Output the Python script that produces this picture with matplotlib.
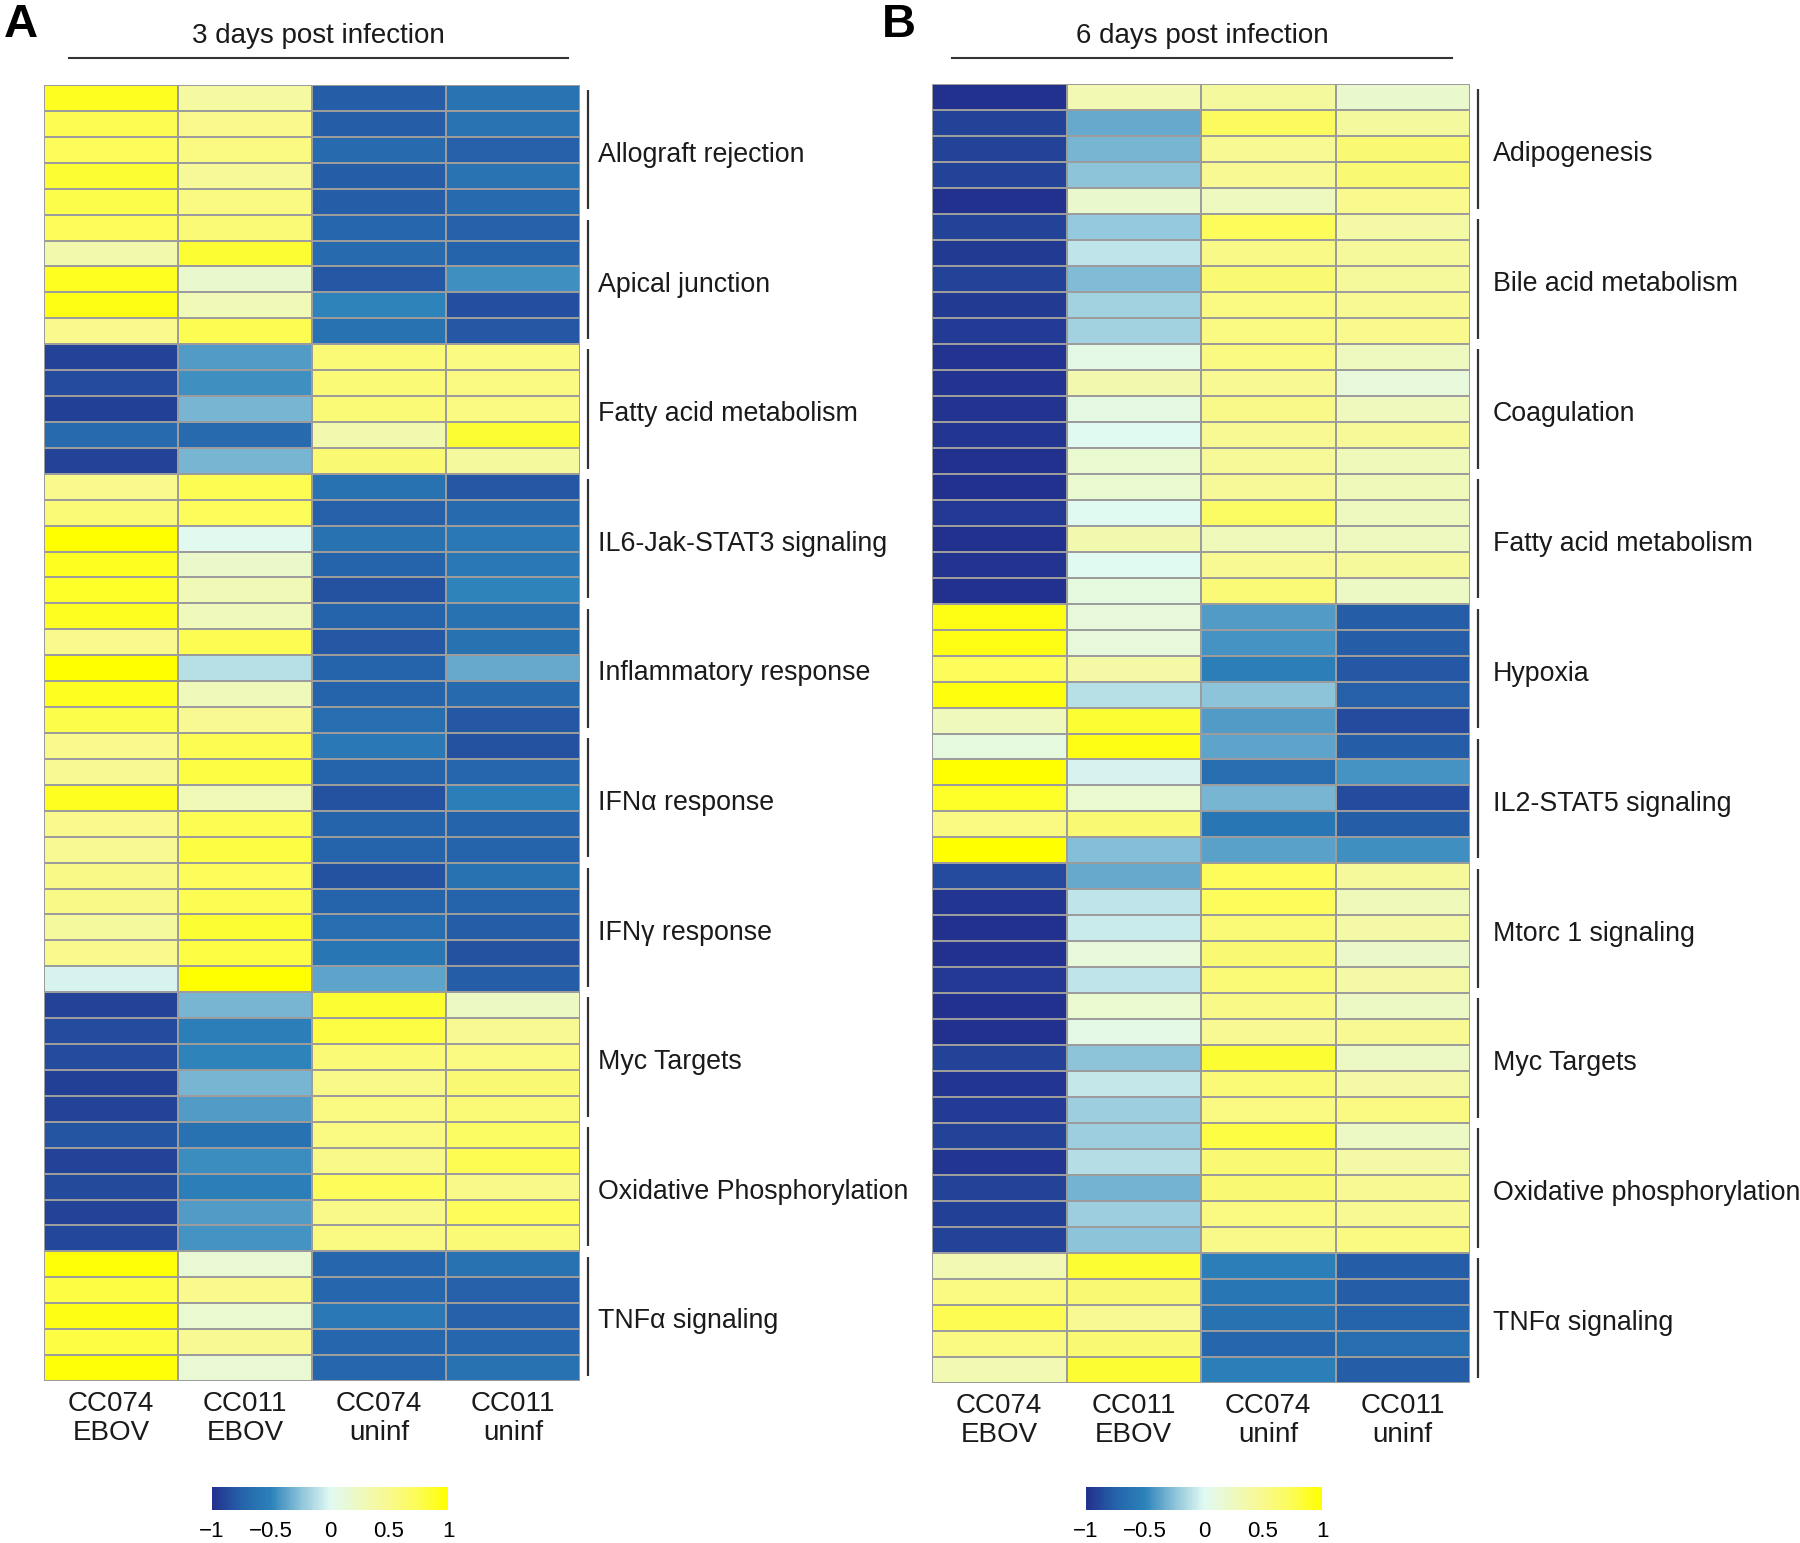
import matplotlib
matplotlib.use('Agg')
import matplotlib.pyplot as plt
import numpy as np
from matplotlib.colors import LinearSegmentedColormap
from matplotlib.lines import Line2D

# column labels (two lines each)
samples_top = ['CC074', 'CC011', 'CC074', 'CC011']
samples_bottom = ['EBOV', 'EBOV', 'uninf', 'uninf']

groups_d3 = ['Allograft rejection', 'Apical junction', 'Fatty acid metabolism',
             'IL6-Jak-STAT3 signaling', 'Inflammatory response', 'IFN\u03b1 response',
             'IFN\u03b3 response', 'Myc Targets', 'Oxidative Phosphorylation', 'TNF\u03b1 signaling']
groups_d6 = ['Adipogenesis', 'Bile acid metabolism', 'Coagulation', 'Fatty acid metabolism',
             'Hypoxia', 'IL2-STAT5 signaling', 'Mtorc 1 signaling', 'Myc Targets',
             'Oxidative phosphorylation', 'TNF\u03b1 signaling']

# 3 days post infection, one list per column (50 genes, 5 per group)
d3_cc074_ebov = [0.9, 0.75, 0.72, 0.85, 0.78, 0.72, 0.35, 0.9, 0.93, 0.5,
                 -0.9, -0.86, -0.92, -0.68, -0.9, 0.5, 0.6, 1.0, 0.9, 0.88,
                 0.9, 0.5, 1.0, 0.9, 0.78, 0.5, 0.47, 0.9, 0.5, 0.47,
                 0.53, 0.53, 0.42, 0.5, -0.03, -0.9, -0.86, -0.86, -0.92, -0.9,
                 -0.82, -0.9, -0.87, -0.9, -0.88, 0.97, 0.8, 0.93, 0.8, 0.97]
d3_cc011_ebov = [0.4, 0.5, 0.55, 0.45, 0.55, 0.6, 0.85, 0.18, 0.3, 0.75,
                 -0.4, -0.45, -0.3, -0.68, -0.3, 0.75, 0.72, 0.02, 0.2, 0.3,
                 0.27, 0.75, -0.12, 0.28, 0.48, 0.75, 0.8, 0.3, 0.75, 0.8,
                 0.72, 0.75, 0.85, 0.8, 1.0, -0.3, -0.53, -0.5, -0.3, -0.4,
                 -0.63, -0.46, -0.53, -0.4, -0.43, 0.15, 0.5, 0.17, 0.47, 0.15]
d3_cc074_uninf = [-0.78, -0.78, -0.68, -0.78, -0.77, -0.72, -0.68, -0.8, -0.5, -0.63,
                  0.6, 0.6, 0.6, 0.33, 0.62, -0.63, -0.76, -0.63, -0.75, -0.83,
                  -0.75, -0.8, -0.75, -0.75, -0.66, -0.57, -0.75, -0.83, -0.75, -0.75,
                  -0.83, -0.75, -0.66, -0.6, -0.37, 0.85, 0.8, 0.6, 0.52, 0.55,
                  0.55, 0.52, 0.72, 0.52, 0.55, -0.72, -0.72, -0.57, -0.72, -0.72]
d3_cc011_uninf = [-0.62, -0.62, -0.76, -0.62, -0.68, -0.76, -0.75, -0.45, -0.85, -0.8,
                  0.55, 0.55, 0.55, 0.85, 0.42, -0.8, -0.68, -0.57, -0.57, -0.5,
                  -0.63, -0.63, -0.35, -0.68, -0.8, -0.83, -0.72, -0.53, -0.75, -0.75,
                  -0.63, -0.75, -0.78, -0.83, -0.78, 0.24, 0.48, 0.55, 0.62, 0.6,
                  0.68, 0.75, 0.52, 0.72, 0.6, -0.63, -0.76, -0.76, -0.72, -0.63]

# 6 days post infection
d6_cc074_ebov = [-1.0, -0.9, -0.9, -0.9, -1.0, -0.9, -0.95, -0.9, -0.95, -0.94,
                 -0.98, -0.98, -0.98, -0.97, -1.0, -1.0, -0.96, -1.0, -0.98, -1.0,
                 0.93, 0.93, 0.72, 0.96, 0.27, 0.1, 1.0, 0.88, 0.55, 1.0,
                 -0.86, -0.97, -1.0, -1.0, -0.96, -1.0, -1.0, -0.9, -0.97, -0.94,
                 -0.9, -0.97, -0.9, -0.92, -0.9, 0.32, 0.55, 0.75, 0.55, 0.32]
d6_cc011_ebov = [0.32, -0.35, -0.3, -0.25, 0.18, -0.22, -0.1, -0.28, -0.18, -0.18,
                 0.06, 0.33, 0.08, 0.0, 0.17, 0.17, 0.0, 0.33, 0.0, 0.1,
                 0.12, 0.12, 0.38, -0.12, 0.85, 0.93, -0.03, 0.17, 0.62, -0.27,
                 -0.35, -0.1, -0.07, 0.12, -0.1, 0.17, 0.07, -0.25, -0.08, -0.2,
                 -0.2, -0.13, -0.31, -0.2, -0.25, 0.85, 0.62, 0.48, 0.62, 0.85]
d6_cc074_uninf = [0.42, 0.7, 0.48, 0.48, 0.25, 0.72, 0.53, 0.62, 0.55, 0.55,
                  0.55, 0.47, 0.52, 0.47, 0.45, 0.45, 0.68, 0.28, 0.48, 0.6,
                  -0.4, -0.43, -0.53, -0.25, -0.4, -0.37, -0.66, -0.3, -0.6, -0.38,
                  0.72, 0.72, 0.6, 0.62, 0.6, 0.53, 0.48, 0.85, 0.6, 0.55,
                  0.8, 0.62, 0.62, 0.55, 0.52, -0.53, -0.6, -0.63, -0.72, -0.53]
d6_cc011_uninf = [0.18, 0.42, 0.62, 0.62, 0.5, 0.38, 0.43, 0.43, 0.48, 0.5,
                  0.25, 0.12, 0.26, 0.45, 0.28, 0.28, 0.25, 0.25, 0.43, 0.23,
                  -0.78, -0.78, -0.8, -0.76, -0.86, -0.78, -0.43, -0.86, -0.78, -0.45,
                  0.43, 0.28, 0.38, 0.2, 0.38, 0.23, 0.48, 0.23, 0.38, 0.55,
                  0.23, 0.37, 0.47, 0.47, 0.55, -0.78, -0.78, -0.75, -0.66, -0.78]

cmap = LinearSegmentedColormap.from_list(
    'ebov', ['#22308e', '#2563aa', '#2c82ba', '#8cc3da', '#e0f9f2',
             '#eef9c0', '#f9f98e', '#fcfc55', '#ffff00'])

W, H = 1800, 1543
fig = plt.figure(figsize=(W / 100, H / 100), dpi=100)
narrow = ['Liberation Sans Narrow', 'Liberation Sans', 'DejaVu Sans']
regular = ['Liberation Sans', 'DejaVu Sans']


def fx(px):
    return px / W


def fy(py):
    return 1 - py / H


def panel(x0, x1, y0, y1, cols, groups, letter, lx, title, line_x, cb_x, lab_off):
    data = np.column_stack(cols)
    ax = fig.add_axes([fx(x0), fy(y1), fx(x1 - x0), (y1 - y0) / H])
    mesh = ax.pcolormesh(data, cmap=cmap, vmin=-1, vmax=1,
                         edgecolors='#9c9c9c', linewidth=1.3)
    ax.set_xlim(0, 4)
    ax.set_ylim(len(data), 0)
    ax.set_xticks([])
    ax.set_yticks([])
    for s in ax.spines.values():
        s.set_visible(False)

    colw = (x1 - x0) / 4
    bar_x = 4 + 8 / colw
    lab_x = 4 + lab_off / colw
    for g, name in enumerate(groups):
        ax.plot([bar_x, bar_x], [g * 5 + 0.2, g * 5 + 4.8], color='#333333',
                lw=1.6, clip_on=False, solid_capstyle='butt')
        ax.text(lab_x, g * 5 + 2.7, name, ha='left', va='center',
                fontsize=19.3, family=regular, color='#1a1a1a')

    for i in range(4):
        ax.text(i + 0.5, 50.9, samples_top[i], ha='center', va='center',
                fontsize=20, family=narrow, color='#1a1a1a')
        ax.text(i + 0.5, 52.0, samples_bottom[i], ha='center', va='center',
                fontsize=20, family=narrow, color='#1a1a1a')

    fig.text(fx(lx), fy(25), letter, ha='center', va='center', fontsize=34,
             fontweight='bold', family=regular)
    fig.text(fx((line_x[0] + line_x[1]) / 2), fy(36), title, ha='center',
             va='center', fontsize=20, family=narrow, color='#1a1a1a')
    fig.add_artist(Line2D([fx(line_x[0]), fx(line_x[1])], [fy(58), fy(58)],
                          color='#333333', lw=1.5))

    cax = fig.add_axes([fx(cb_x), fy(1510), fx(236), 23 / H])
    cb = fig.colorbar(mesh, cax=cax, orientation='horizontal',
                      ticks=[-1, -0.5, 0, 0.5, 1])
    cb.outline.set_visible(False)
    cax.tick_params(length=0, pad=8)
    cax.set_xticklabels(['\u22121', '\u22120.5', '0', '0.5', '1'])
    for t in cax.get_xticklabels():
        t.set_fontfamily(narrow)
        t.set_fontsize(16)


panel(44, 580, 85, 1381,
      [d3_cc074_ebov, d3_cc011_ebov, d3_cc074_uninf, d3_cc011_uninf],
      groups_d3, 'A', 21, '3 days post infection', (69, 568), 212, 18)
panel(932, 1470, 84, 1383,
      [d6_cc074_ebov, d6_cc011_ebov, d6_cc074_uninf, d6_cc011_uninf],
      groups_d6, 'B', 899, '6 days post infection', (952, 1452), 1086, 23)

fig.savefig('out.png', dpi=100)
